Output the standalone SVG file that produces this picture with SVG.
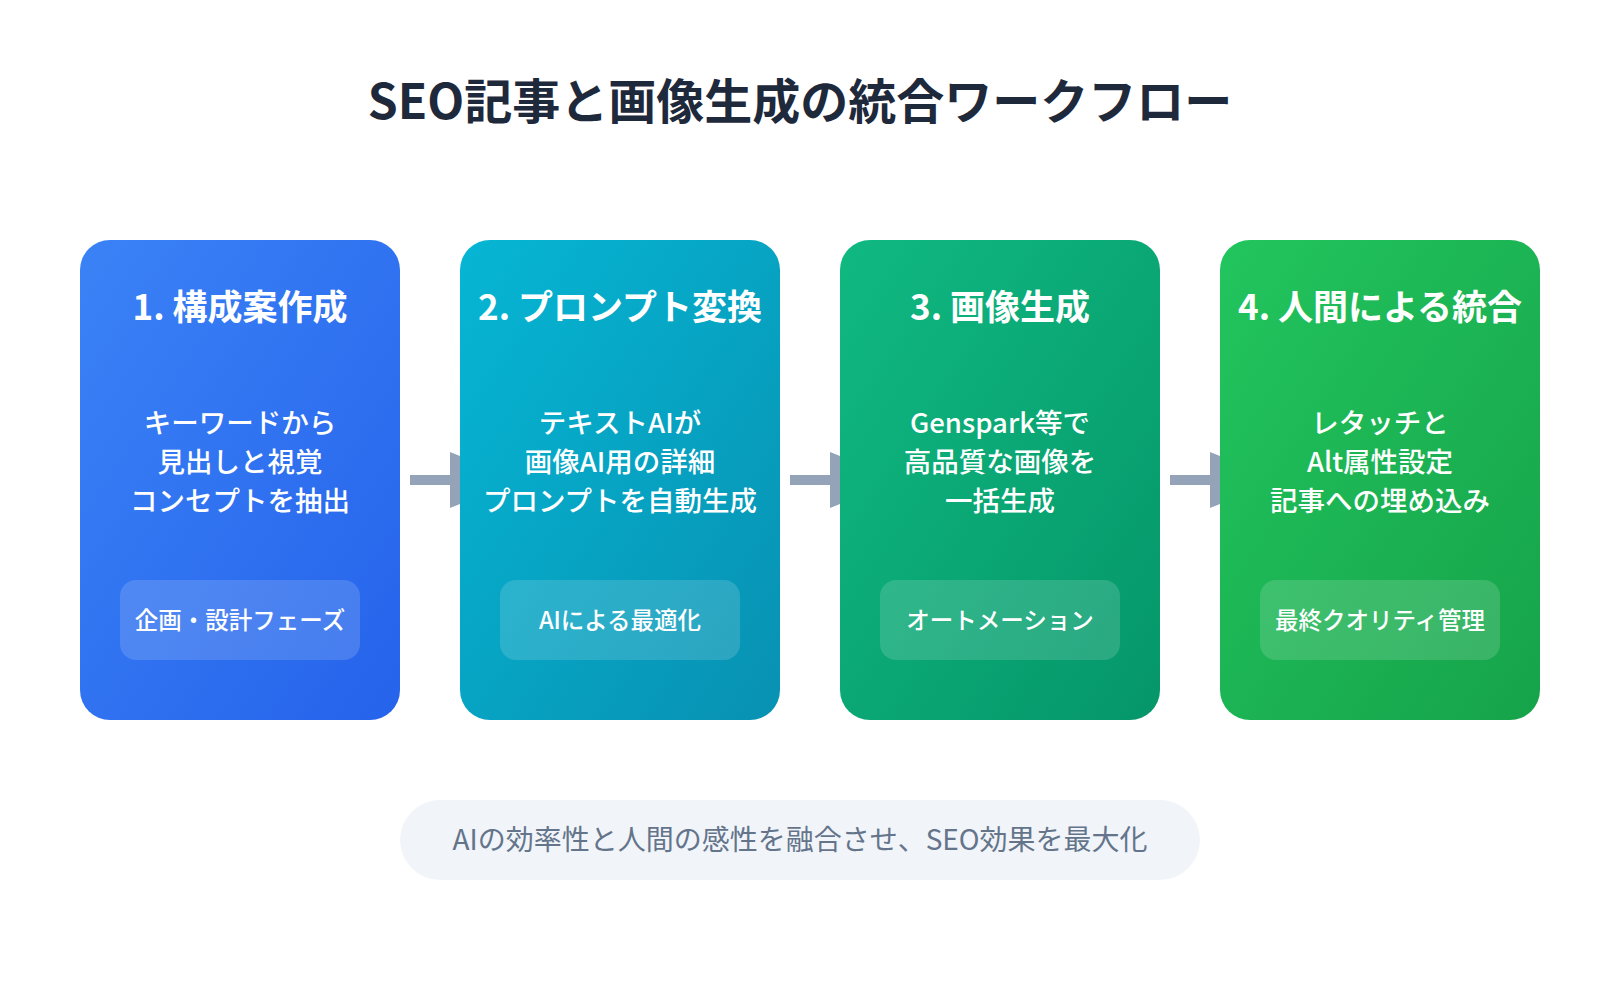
<svg xmlns="http://www.w3.org/2000/svg" width="1600" height="1000" viewBox="0 0 1600 1000">
<defs>
<linearGradient id="g1" x1="0" y1="0" x2="1" y2="1"><stop offset="0" stop-color="#3b82f6"/><stop offset="1" stop-color="#2563eb"/></linearGradient>
<linearGradient id="g2" x1="0" y1="0" x2="1" y2="1"><stop offset="0" stop-color="#06b6d4"/><stop offset="1" stop-color="#0891b2"/></linearGradient>
<linearGradient id="g3" x1="0" y1="0" x2="1" y2="1"><stop offset="0" stop-color="#10b981"/><stop offset="1" stop-color="#059669"/></linearGradient>
<linearGradient id="g4" x1="0" y1="0" x2="1" y2="1"><stop offset="0" stop-color="#22c55e"/><stop offset="1" stop-color="#16a34a"/></linearGradient>
<style>
text{font-family:"Noto Sans CJK JP","Noto Sans",sans-serif;text-anchor:middle}
.t{font-size:48px;font-weight:700;fill:#1e293b}
.h{font-size:35px;font-weight:700;fill:#fff}
.d{font-size:27.5px;fill:#fff;font-weight:500}
.b{font-size:23.5px;fill:#fff;font-weight:500}
.bg{fill:#fff;fill-opacity:0.15}
.ar{stroke:#94a3b8;stroke-width:10;fill:none}
.ah{fill:#94a3b8}
</style>
</defs>
<rect width="1600" height="1000" fill="#fff"/>
<text class="t" x="800" y="119">SEO記事と画像生成の統合ワークフロー</text>
<g id="connectors">
<line class="ar" x1="410" y1="480" x2="455" y2="480"/><polygon class="ah" points="450,452 470,460 470,500 450,508"/>
<line class="ar" x1="790" y1="480" x2="835" y2="480"/><polygon class="ah" points="830,452 850,460 850,500 830,508"/>
<line class="ar" x1="1170" y1="480" x2="1215" y2="480"/><polygon class="ah" points="1210,452 1230,460 1230,500 1210,508"/>
</g>
<g id="n1"><rect x="80" y="240" width="320" height="480" rx="30" fill="url(#g1)"/>
<text class="h" x="240" y="320">1. 構成案作成</text>
<text class="d" x="240" y="433">キーワードから</text><text class="d" x="240" y="472">見出しと視覚</text><text class="d" x="240" y="511">コンセプトを抽出</text>
<rect class="bg" x="120" y="580" width="240" height="80" rx="16"/><text class="b" x="240" y="629">企画・設計フェーズ</text></g>
<g id="n2"><rect x="460" y="240" width="320" height="480" rx="30" fill="url(#g2)"/>
<text class="h" x="620" y="320">2. プロンプト変換</text>
<text class="d" x="620" y="433">テキストAIが</text><text class="d" x="620" y="472">画像AI用の詳細</text><text class="d" x="620" y="511">プロンプトを自動生成</text>
<rect class="bg" x="500" y="580" width="240" height="80" rx="16"/><text class="b" x="620" y="629">AIによる最適化</text></g>
<g id="n3"><rect x="840" y="240" width="320" height="480" rx="30" fill="url(#g3)"/>
<text class="h" x="1000" y="320">3. 画像生成</text>
<text class="d" x="1000" y="433">Genspark等で</text><text class="d" x="1000" y="472">高品質な画像を</text><text class="d" x="1000" y="511">一括生成</text>
<rect class="bg" x="880" y="580" width="240" height="80" rx="16"/><text class="b" x="1000" y="629">オートメーション</text></g>
<g id="n4"><rect x="1220" y="240" width="320" height="480" rx="30" fill="url(#g4)"/>
<text class="h" x="1380" y="320">4. 人間による統合</text>
<text class="d" x="1380" y="433">レタッチと</text><text class="d" x="1380" y="472">Alt属性設定</text><text class="d" x="1380" y="511">記事への埋め込み</text>
<rect class="bg" x="1260" y="580" width="240" height="80" rx="16"/><text class="b" x="1380" y="629">最終クオリティ管理</text></g>
<g id="footer"><rect x="400" y="800" width="800" height="80" rx="40" fill="#f1f5f9"/>
<text x="800" y="850" style="font-size:28px;fill:#64748b">AIの効率性と人間の感性を融合させ、SEO効果を最大化</text></g>
</svg>
